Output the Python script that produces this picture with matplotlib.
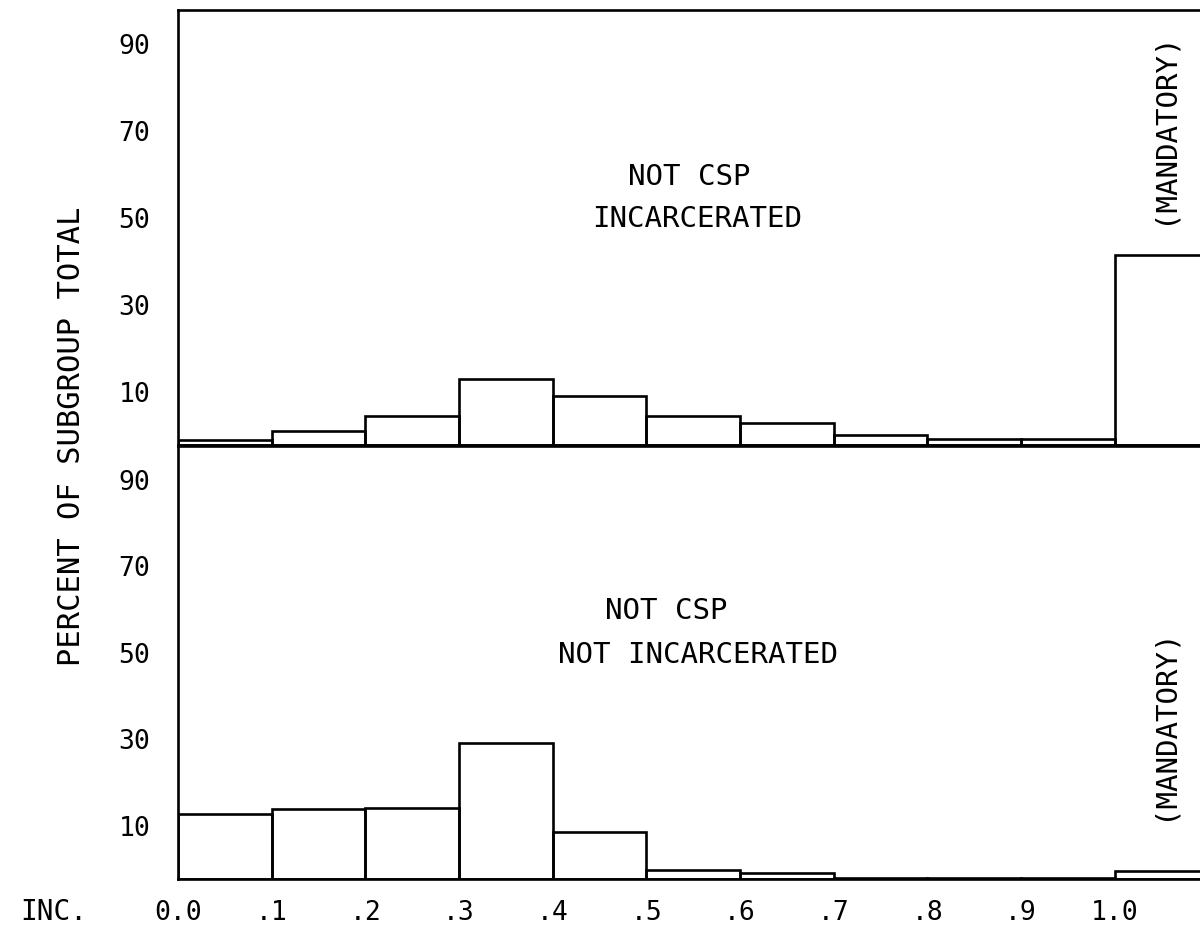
import matplotlib
matplotlib.use("Agg")
import matplotlib.pyplot as plt
import matplotlib.transforms as mtransforms

# bin left edges (fraction), last bin is the "mandatory" column past 1.0
bin_left = [0.0, 0.1, 0.2, 0.3, 0.4, 0.5, 0.6, 0.7, 0.8, 0.9, 1.0]
incarcerated = [1.2, 3.4, 6.7, 15.2, 11.3, 6.7, 5.1, 2.5, 1.4, 1.6, 43.7]
not_incarcerated = [15.0, 16.3, 16.5, 31.5, 10.8, 2.2, 1.4, 0.3, 0.2, 0.2, 1.8]

x_ticks = [0.0, 0.1, 0.2, 0.3, 0.4, 0.5, 0.6, 0.7, 0.8, 0.9, 1.0]
x_labels = ["0.0", ".1", ".2", ".3", ".4", ".5", ".6", ".7", ".8", ".9", "1.0"]
y_ticks = [10, 30, 50, 70, 90]

plt.rcParams["font.family"] = ["DejaVu Sans Mono"]

fig = plt.figure(figsize=(12, 9.25), dpi=100)
ax_top = fig.add_axes([0.1483, 0.5184, 0.8517, 0.4708])
ax_bot = fig.add_axes([0.1483, 0.0497, 0.8517, 0.4676], sharex=ax_top)

lw = 1.9
for ax, vals in ((ax_top, incarcerated), (ax_bot, not_incarcerated)):
    ax.bar(bin_left, vals, width=0.1, align="edge", fill=False,
           edgecolor="black", linewidth=lw)
    ax.set_ylim(0, 100)
    ax.set_xlim(0, 1.091)
    ax.set_yticks(y_ticks)
    ax.set_yticklabels([str(v) for v in y_ticks])
    ax.tick_params(axis="y", length=0, pad=20, labelsize=19)
    for side in ("left", "top", "bottom"):
        ax.spines[side].set_linewidth(lw)
    ax.spines["right"].set_visible(False)
    # plotter labels sit a little above their tick value
    off = mtransforms.ScaledTranslation(0, 0.10, fig.dpi_scale_trans)
    for lab in ax.get_yticklabels():
        lab.set_transform(lab.get_transform() + off)

ax_top.tick_params(axis="x", length=0, labelbottom=False)
ax_bot.set_xticks(x_ticks)
ax_bot.set_xticklabels(x_labels)
ax_bot.tick_params(axis="x", length=0, pad=15, labelsize=19)

fs = 21
ax_top.text(0.50, 0.616, "NOT CSP", transform=ax_top.transAxes,
            ha="center", va="center", fontsize=fs)
ax_top.text(0.508, 0.52, "INCARCERATED", transform=ax_top.transAxes,
            ha="center", va="center", fontsize=fs)
ax_bot.text(0.478, 0.62, "NOT CSP", transform=ax_bot.transAxes,
            ha="center", va="center", fontsize=fs)
ax_bot.text(0.509, 0.519, "NOT INCARCERATED", transform=ax_bot.transAxes,
            ha="center", va="center", fontsize=fs)

ax_top.text(1.052, 73, "(MANDATORY)", rotation=90, ha="center", va="center",
            fontsize=fs)
ax_bot.text(1.052, 36, "(MANDATORY)", rotation=90, ha="center", va="center",
            fontsize=fs)

fig.text(0.06, 0.528, "PERCENT OF SUBGROUP TOTAL", rotation=90,
         ha="center", va="center", fontsize=22)
fig.text(0.045, 0.014, "INC.", ha="center", va="center", fontsize=20)

fig.savefig("out.png", dpi=100)
